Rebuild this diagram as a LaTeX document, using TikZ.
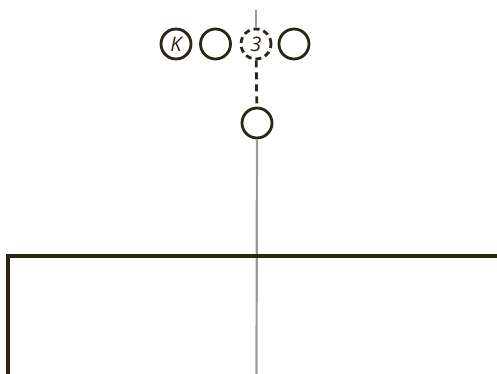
\documentclass[tikz,border=0pt]{standalone}
\usepackage{fontspec}
\setsansfont{Open Sans}
\definecolor{ink}{HTML}{2B2518}
\definecolor{axis}{HTML}{9A9A9A}

\begin{document}
\begin{tikzpicture}[x=1pt,y=-1pt]
        \useasboundingbox (0,0) rectangle (497,374);
        % Draw nodes
        % Draw nodes explicitly
        \node[circle,draw=ink,line width=2.8pt,fill=white,minimum size=30pt,inner sep=0pt,font=\sffamily\itshape\fontsize{20}{20}\selectfont,text=ink] (k) at (176,44) {K};
        \node[circle,draw=ink,line width=2.8pt,fill=white,minimum size=30pt,inner sep=0pt] (c2) at (215.5,44) {};
        \node[circle,draw=ink,line width=2.8pt,dash pattern=on 6pt off 4pt,fill=white,minimum size=30pt,inner sep=0pt,font=\sffamily\itshape\fontsize{20}{20}\selectfont,text=ink] (c3) at (256,44) {3};
        \node[circle,draw=ink,line width=2.8pt,fill=white,minimum size=30pt,inner sep=0pt] (c4) at (294,44) {};
        \node[circle,draw=ink,line width=2.8pt,fill=white,minimum size=30pt,inner sep=0pt] (low) at (257,123) {};

        % Draw the axis and the frame
        \coordinate (top) at (256,10);
        \coordinate (bottom) at (256.5,374);
        \coordinate (left) at (8,374);
        \coordinate (corner) at (8,256);
        \coordinate (right) at (497,256);
        \draw[axis,line width=2.2pt] (top) -- (c3);
        \draw[axis,line width=2.2pt] (low) -- (bottom);
        \draw[ink,line width=3.5pt] (left) -- (corner) -- (right);

        % Draw the dashed link
        \draw[ink,line width=2.8pt,dash pattern=on 7pt off 5pt] (c3) -- (low);
    \end{tikzpicture}
\end{document}
